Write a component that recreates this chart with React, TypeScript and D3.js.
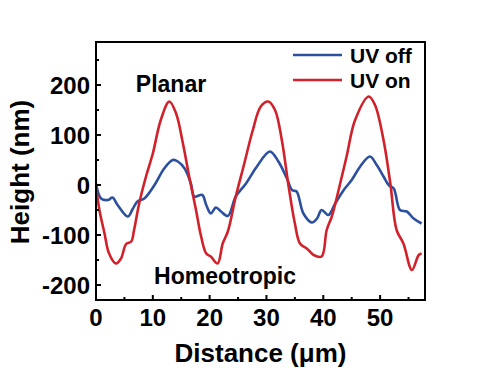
import React from "react";
import * as d3 from "d3";

const xTicks = [0, 10, 20, 30, 40, 50];
const yTicks = [-200, -100, 0, 100, 200];
const xMinor = [5, 15, 25, 35, 45, 55];
const yMinor = [-150, -50, 50, 150, 250];

const uvOnX = [0, 0.6, 1.5, 2.3, 3.5, 4.4, 5.3, 6.2, 6.7, 7.6, 8.8, 10.0, 11.4, 12.9, 14.1, 15.3, 16.4, 17.6, 18.5, 19.4, 20.2, 21.4, 22.3, 23.2, 24.6, 26.1, 27.6, 29.0, 30.3, 31.5, 32.7, 33.9, 35.0, 35.9, 37.1, 38.3, 39.7, 40.6, 41.5, 42.7, 44.1, 45.6, 48.0, 49.1, 50.6, 51.8, 52.9, 54.1, 55.6, 56.8, 57.3];
const uvOnY = [-3, -50, -97, -137, -157, -147, -118, -113, -90, -37, 17, 63, 130, 167, 143, 83, 17, -50, -103, -137, -143, -157, -117, -93, -23, 43, 110, 157, 167, 150, 90, -3, -77, -117, -127, -140, -143, -90, -63, -10, 57, 130, 177, 160, 90, 3, -90, -117, -170, -140, -137];

const uvOffX = [0, 0.9, 2.1, 2.9, 3.8, 5.6, 6.5, 7.3, 8.5, 10.3, 12.0, 13.5, 14.4, 15.6, 16.7, 17.3, 18.7, 19.4, 20.2, 21.1, 22.0, 23.2, 24.6, 26.4, 28.2, 30.6, 32.1, 33.6, 34.5, 35.3, 36.5, 38.0, 38.9, 39.7, 40.9, 42.1, 43.6, 45.0, 46.5, 48.2, 49.4, 50.6, 51.5, 52.4, 53.5, 54.7, 55.9, 57.3];
const uvOffY = [3, -27, -30, -25, -40, -63, -47, -33, -27, 0, 33, 50, 47, 33, 3, -23, -20, -40, -57, -45, -53, -62, -23, 3, 35, 67, 47, 13, -10, -13, -57, -75, -67, -50, -60, -37, -10, 10, 37, 57, 40, 17, 0, -7, -50, -53, -67, -77];

const seriesNames = ["UV off", "UV on"];
const colors = ["#2c4f9e", "#d1222c"];

const FONT = "'Liberation Sans', Arial, sans-serif";

export default function App() {
  const left = 96, right = 425, top = 42, bottom = 300;
  const x = d3.scaleLinear().domain([0, 57.9]).range([left, right]);
  const y = d3.scaleLinear().domain([-230, 286]).range([bottom, top]);
  const line = d3
    .line<[number, number]>()
    .x((d) => x(d[0]))
    .y((d) => y(d[1]))
    .curve(d3.curveCatmullRom.alpha(0.5));
  const off: [number, number][] = uvOffX.map((v, i) => [v, uvOffY[i]]);
  const on: [number, number][] = uvOnX.map((v, i) => [v, uvOnY[i]]);

  return (
    <svg
      width={493}
      height={373}
      style={{ position: "absolute", left: 0, top: 0, background: "#fff" }}
      fontFamily={FONT}
      fontWeight="bold"
    >
      <defs>
        <clipPath id="plot">
          <rect x={left} y={top} width={right - left} height={bottom - top} />
        </clipPath>
      </defs>
      <g clipPath="url(#plot)">
        <path d={line(off) || ""} fill="none" stroke={colors[0]} strokeWidth={2.6} strokeLinejoin="round" />
        <path d={line(on) || ""} fill="none" stroke={colors[1]} strokeWidth={2.6} strokeLinejoin="round" />
      </g>
      <rect x={left} y={top} width={right - left} height={bottom - top} fill="none" stroke="#000" strokeWidth={2} />
      {xTicks.map((t) => (
        <g key={"x" + t}>
          <line x1={x(t)} x2={x(t)} y1={bottom} y2={bottom - 5} stroke="#000" strokeWidth={2} />
          <text x={x(t)} y={326} textAnchor="middle" fontSize={24}>
            {t}
          </text>
        </g>
      ))}
      {xMinor.map((t) => (
        <line key={"xm" + t} x1={x(t)} x2={x(t)} y1={bottom} y2={bottom - 3} stroke="#000" strokeWidth={2} />
      ))}
      {yTicks.map((t) => (
        <g key={"y" + t}>
          <line x1={left} x2={left + 5} y1={y(t)} y2={y(t)} stroke="#000" strokeWidth={2} />
          <text x={90} y={y(t)} dy="0.36em" textAnchor="end" fontSize={24}>
            {t}
          </text>
        </g>
      ))}
      {yMinor.map((t) => (
        <line key={"ym" + t} x1={left} x2={left + 3} y1={y(t)} y2={y(t)} stroke="#000" strokeWidth={2} />
      ))}
      <text x={(left + right) / 2} y={362} textAnchor="middle" fontSize={26}>
        Distance (μm)
      </text>
      <text transform="translate(29,172) rotate(-90)" textAnchor="middle" fontSize={26}>
        Height (nm)
      </text>
      <text x={171} y={92} textAnchor="middle" fontSize={23}>
        Planar
      </text>
      <text x={225} y={284} textAnchor="middle" fontSize={23}>
        Homeotropic
      </text>
      {seriesNames.map((n, i) => (
        <g key={n}>
          <line x1={293} x2={342} y1={55 + i * 25} y2={55 + i * 25} stroke={colors[i]} strokeWidth={2.6} />
          <text x={350} y={55 + i * 25} dy="0.36em" fontSize={21}>
            {n}
          </text>
        </g>
      ))}
    </svg>
  );
}
